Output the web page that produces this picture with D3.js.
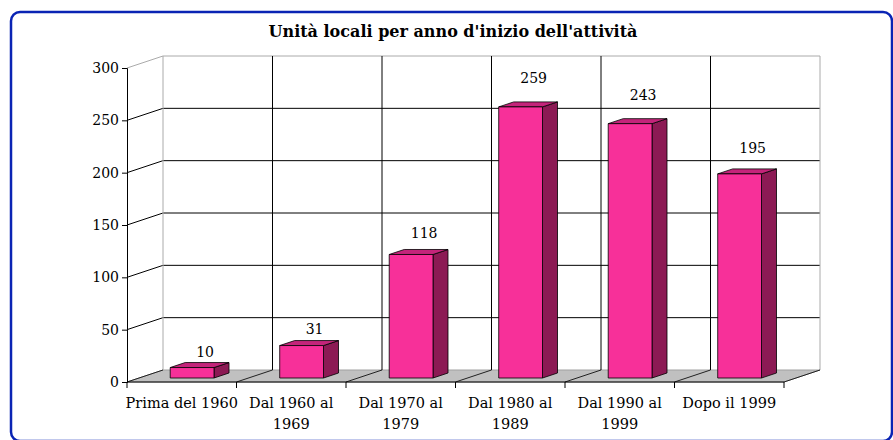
<!DOCTYPE html>
<html>
<head>
<meta charset="utf-8">
<script src="https://cdn.jsdelivr.net/npm/d3@7"></script>
<style>
  body { margin: 0; background: #fff; }
  svg text { font-family: "DejaVu Serif", "Liberation Serif", serif; fill: #000; }
</style>
</head>
<body>
<svg id="chart" width="893" height="440"></svg>
<script>
var categories = ["Prima del 1960", "Dal 1960 al 1969", "Dal 1970 al 1979", "Dal 1980 al 1989", "Dal 1990 al 1999", "Dopo il 1999"];
var labelLines = [["Prima del 1960"], ["Dal 1960 al", "1969"], ["Dal 1970 al", "1979"], ["Dal 1980 al", "1989"], ["Dal 1990 al", "1999"], ["Dopo il 1999"]];
var values = [10, 31, 118, 259, 243, 195];
var yTicks = [0, 50, 100, 150, 200, 250, 300];
var title = "Unità locali per anno d'inizio dell'attività";

var svg = d3.select("#chart");
var depth = {dx: 36, dy: -12};   // offset of the back wall
var front = {left: 127, right: 784, bottom: 382, top: 68};

var x = d3.scaleBand().domain(categories).range([front.left, front.right]);
var y = d3.scaleLinear().domain([0, 300]).range([front.bottom, front.top]);

// project a point at depth z (0 = front, 1 = back wall)
function p(px, py, z) { return [px + depth.dx * z, py + depth.dy * z]; }
function poly(pts) { return pts.map(function(d) { return d.join(","); }).join(" "); }

// frame
svg.append("rect")
  .attr("x", 11).attr("y", 12).attr("width", 881).attr("height", 429)
  .attr("rx", 9).attr("ry", 9)
  .attr("fill", "none").attr("stroke", "#0a24b4").attr("stroke-width", 2.5);

svg.append("text")
  .attr("x", 453).attr("y", 37)
  .attr("text-anchor", "middle")
  .style("font-size", "16px").style("font-weight", "bold")
  .text(title);

var g = svg.append("g");

// floor
g.append("polygon")
  .attr("points", poly([p(front.left, y(0), 0), p(front.right, y(0), 0), p(front.right, y(0), 1), p(front.left, y(0), 1)]))
  .attr("fill", "#c0c0c0").attr("stroke", "#a0a0a0").attr("stroke-width", 1);

// back wall horizontal grid + left wall diagonals
yTicks.slice(1).forEach(function(t) {
  var col = t === 300 ? "#aaaaaa" : "#000";
  var a = p(front.left, y(t), 1), b = p(front.right, y(t), 1), c = p(front.left, y(t), 0);
  g.append("line").attr("x1", a[0]).attr("y1", a[1]).attr("x2", b[0]).attr("y2", b[1])
    .attr("stroke", col).attr("stroke-width", 1);
  g.append("line").attr("x1", c[0]).attr("y1", c[1]).attr("x2", a[0]).attr("y2", a[1])
    .attr("stroke", col).attr("stroke-width", 1);
});

// back wall vertical grid
var bounds = categories.map(function(c) { return x(c); }).concat([front.right]);
bounds.forEach(function(bx, i) {
  var col = (i === 0 || i === bounds.length - 1) ? "#aaaaaa" : "#000";
  var a = p(bx, y(0), 1), b = p(bx, y(300), 1);
  g.append("line").attr("x1", a[0]).attr("y1", a[1]).attr("x2", b[0]).attr("y2", b[1])
    .attr("stroke", col).attr("stroke-width", 1);
  // floor diagonal
  var f = p(bx, y(0), 0);
  g.append("line").attr("x1", f[0]).attr("y1", f[1]).attr("x2", a[0]).attr("y2", a[1])
    .attr("stroke", "#222").attr("stroke-width", 1);
});

// axes
var yAxis = d3.axisLeft(y).tickValues(yTicks).tickSize(5).tickPadding(3);
var ya = svg.append("g").attr("transform", "translate(" + front.left + ",0)").call(yAxis);
ya.select(".domain").attr("stroke", "#000");
ya.selectAll("text").style("font-size", "14px").attr("fill", "#000");

var xa = svg.append("g");
xa.append("line").attr("x1", front.left).attr("x2", front.right)
  .attr("y1", y(0)).attr("y2", y(0)).attr("stroke", "#000");
bounds.forEach(function(bx) {
  xa.append("line").attr("x1", bx).attr("x2", bx).attr("y1", y(0)).attr("y2", y(0) + 6).attr("stroke", "#000");
});
categories.forEach(function(c, i) {
  var t = xa.append("text")
    .attr("x", x(c) + x.bandwidth() / 2).attr("y", 408)
    .attr("text-anchor", "middle").style("font-size", "14.5px");
  labelLines[i].forEach(function(line, j) {
    t.append("tspan").attr("x", x(c) + x.bandwidth() / 2).attr("dy", j === 0 ? 0 : 21).text(line);
  });
});

// bars
var z0 = 1 / 3, z1 = 0.75;
var bars = svg.append("g").selectAll("g").data(values).enter().append("g");
bars.each(function(v, i) {
  var el = d3.select(this);
  var x0 = x(categories[i]) + x.bandwidth() * 0.285, x1 = x0 + x.bandwidth() * 0.4;
  var yt = y(v), yb = y(0);
  el.append("polygon")
    .attr("points", poly([p(x1, yb, z0), p(x1, yb, z1), p(x1, yt, z1), p(x1, yt, z0)]))
    .attr("fill", "#8c1a54").attr("stroke", "#000").attr("stroke-width", 0.8);
  el.append("polygon")
    .attr("points", poly([p(x0, yt, z0), p(x1, yt, z0), p(x1, yt, z1), p(x0, yt, z1)]))
    .attr("fill", "#c4247a").attr("stroke", "#000").attr("stroke-width", 0.8);
  el.append("polygon")
    .attr("points", poly([p(x0, yb, z0), p(x1, yb, z0), p(x1, yt, z0), p(x0, yt, z0)]))
    .attr("fill", "#f73099").attr("stroke", "#000").attr("stroke-width", 0.8);
  var top = p((x0 + x1) / 2, yt, z0);
  el.append("text")
    .attr("x", top[0] + 13).attr("y", top[1] - 10 - v * 0.055)
    .attr("text-anchor", "middle").style("font-size", "14px")
    .text(v);
});
</script>
</body>
</html>
